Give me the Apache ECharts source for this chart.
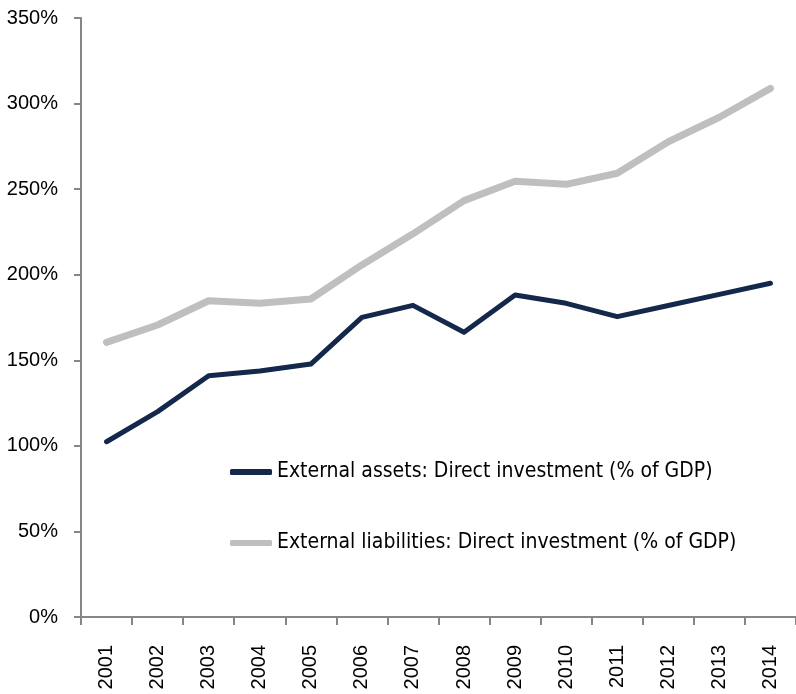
<!DOCTYPE html>
<html>
<head>
<meta charset="utf-8">
<script src="https://cdn.jsdelivr.net/npm/echarts@6/dist/echarts.min.js"></script>
<style>
  html, body { margin: 0; padding: 0; background: #fff; }
  #chart { width: 796px; height: 694px; }
</style>
</head>
<body>
<div id="chart"></div>
<script>
// years on the x axis
var years = ['2001', '2002', '2003', '2004', '2005', '2006', '2007',
             '2008', '2009', '2010', '2011', '2012', '2013', '2014'];
// % of GDP
var assets = [102.4, 120.0, 141.0, 143.7, 147.8, 175.1, 182.1,
              166.4, 188.2, 183.3, 175.5, 182.0, 188.5, 195.0];
var liabilities = [160.5, 170.6, 184.8, 183.3, 185.8, 205.7, 223.9,
                   243.3, 254.6, 252.8, 259.3, 277.7, 292.0, 308.9];
var assetsName = 'External assets: Direct investment (% of GDP)';
var liabilitiesName = 'External liabilities: Direct investment (% of GDP)';

var chart = echarts.init(document.getElementById('chart'));
chart.setOption({
  animation: false,
  grid: { left: 81, top: 18, width: 721, height: 599 },
  legend: {
    orient: 'vertical',
    left: 225,
    top: 455,
    itemWidth: 42,
    itemHeight: 6,
    itemGap: 47,
    textStyle: {
      fontFamily: "'Liberation Sans Narrow', 'DejaVu Sans Condensed', sans-serif",
      fontSize: 21,
      lineHeight: 24,
      color: '#000'
    },
    data: [
      { name: assetsName, icon: 'roundRect' },
      { name: liabilitiesName, icon: 'roundRect' }
    ]
  },
  xAxis: {
    type: 'category',
    data: years,
    boundaryGap: true,
    axisLine: { lineStyle: { color: '#868686', width: 2 } },
    axisTick: { show: true, length: 8, lineStyle: { color: '#868686', width: 2 } },
    axisLabel: {
      rotate: 90,
      margin: 28,
      fontFamily: 'Liberation Sans',
      fontSize: 20,
      color: '#000'
    },
    splitLine: { show: false }
  },
  yAxis: {
    type: 'value',
    min: 0,
    max: 350,
    interval: 50,
    axisLine: { show: true, lineStyle: { color: '#868686', width: 2 } },
    axisTick: { show: true, length: 7, lineStyle: { color: '#868686', width: 2 } },
    axisLabel: {
      margin: 23,
      fontFamily: 'Liberation Sans',
      fontSize: 20,
      color: '#000',
      formatter: '{value}%'
    },
    splitLine: { show: false }
  },
  series: [
    {
      name: liabilitiesName,
      type: 'line',
      data: liabilities,
      symbol: 'none',
      color: '#bfbfbf',
      lineStyle: { width: 7, color: '#bfbfbf', cap: 'round', join: 'round' }
    },
    {
      name: assetsName,
      type: 'line',
      data: assets,
      symbol: 'none',
      color: '#13284b',
      lineStyle: { width: 5, color: '#13284b', cap: 'round', join: 'round' }
    }
  ]
});
</script>
</body>
</html>
